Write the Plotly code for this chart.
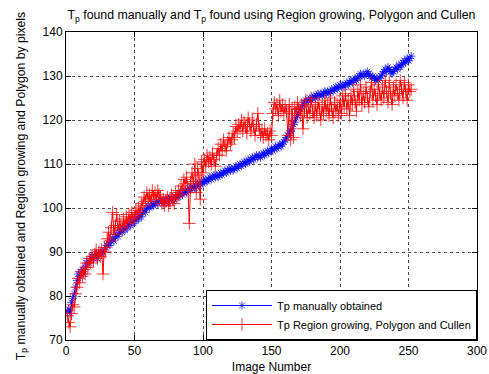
import plotly.graph_objects as go

image_number = list(range(1, 253))

tp_manual = [
    76.5, 77.0, 76.0, 78.5, 79.5, 80.5, 82.0, 83.5, 85.0, 84.5,
    85.5, 86.0, 85.0, 86.5, 87.5, 88.0, 87.5, 88.5, 89.0, 88.5,
    89.0, 89.5, 88.5, 89.5, 90.0, 89.5, 90.0, 90.5, 91.0, 91.5,
    92.0, 91.5, 92.5, 93.0, 92.5, 93.5, 94.0, 93.5, 94.5, 95.0,
    94.5, 95.5, 95.0, 96.0, 95.5, 96.5, 96.0, 97.0, 96.5, 97.5,
    97.0, 98.0, 97.5, 98.5, 98.0, 99.0, 99.5, 99.0, 100.0, 100.5,
    100.0, 100.5, 101.0, 100.5, 101.0, 101.5, 101.0, 101.5, 102.0, 101.5,
    101.0, 101.5, 102.0, 101.5, 102.0, 102.5, 102.0, 101.5, 102.0, 102.5,
    103.0, 102.5, 103.0, 103.5, 103.0, 103.5, 104.0, 103.5, 104.0, 104.5,
    104.0, 104.5, 105.0, 104.5, 105.0, 105.5, 105.0, 105.5, 106.0, 105.5,
    106.0, 106.5, 106.0, 106.5, 107.0, 106.5, 107.0, 107.5, 107.0, 107.5,
    107.0, 107.5, 108.0, 107.5, 108.0, 108.5, 108.0, 108.5, 109.0, 108.5,
    109.0, 108.5, 109.0, 109.5, 109.0, 109.5, 110.0, 109.5, 110.0, 110.5,
    110.0, 110.5, 111.0, 110.5, 111.0, 111.5, 111.0, 111.5, 112.0, 111.5,
    112.0, 111.5, 112.0, 112.5, 112.0, 112.5, 113.0, 112.5, 113.0, 113.5,
    113.0, 113.5, 114.0, 113.5, 114.0, 114.5, 114.0, 114.5, 115.0, 115.5,
    116.0, 116.5, 117.0, 117.5, 118.0, 119.0, 119.5, 120.5, 121.0, 122.0,
    122.5, 123.0, 123.5, 124.0, 124.5, 124.0, 124.5, 125.0, 124.5, 125.0,
    125.5, 125.0, 125.5, 126.0, 125.5, 126.0, 125.5, 126.0, 126.5, 126.0,
    126.5, 126.0, 126.5, 127.0, 126.5, 127.0, 127.5, 127.0, 127.5, 128.0,
    127.5, 128.0, 127.5, 128.0, 128.5, 128.0, 128.5, 129.0, 128.5, 129.0,
    129.5, 129.0, 129.5, 130.0, 130.5, 130.0, 130.5, 130.0, 130.5, 131.0,
    130.5, 130.0, 129.5, 130.0, 129.5, 129.0, 129.5, 129.0, 129.5, 130.0,
    130.5, 131.0, 131.5, 131.0, 132.0, 131.5, 131.0, 130.5, 131.0, 131.5,
    132.0, 131.5, 132.5, 132.0, 132.5, 133.0, 133.5, 133.0, 134.0, 133.5,
    134.0, 134.5,
]

tp_region = [
    75.5, 74.0, 73.0, 76.0, 78.0, 77.5, 80.5, 82.0, 84.0, 83.0,
    85.5, 84.5, 86.0, 85.0, 87.5, 86.5, 88.5, 87.5, 89.0, 88.0,
    89.5, 90.5, 88.5, 90.0, 89.0, 90.5, 85.0, 91.0, 90.0, 93.0,
    94.5, 92.5, 95.5, 99.0, 94.0, 96.0, 98.5, 95.0, 97.0, 96.0,
    95.5, 97.5, 96.0, 98.0, 96.5, 98.5, 97.0, 99.0, 97.5, 98.0,
    99.5, 98.5, 100.0, 99.0, 101.0, 100.5, 102.5, 101.5, 103.5, 102.0,
    103.0, 101.5, 104.0, 102.5, 103.5, 102.0, 104.0, 103.0, 102.5, 101.0,
    102.0, 100.5, 101.5, 102.5, 100.5, 101.5, 103.0, 102.0, 101.0, 103.5,
    102.5, 104.0, 103.0, 105.0, 104.0, 106.5, 105.5, 107.0, 104.5, 96.5,
    106.0, 108.0, 105.5, 110.0, 103.5, 109.0, 107.5, 102.0, 110.5, 108.0,
    111.0, 109.5, 112.0, 110.5, 111.5, 110.0, 112.5, 111.0, 109.5, 112.0,
    113.5, 112.0, 114.5, 113.0, 115.5, 114.0, 113.0, 115.0, 116.0, 114.5,
    115.5, 117.0, 116.0, 118.5, 117.5, 119.0, 118.0, 120.0, 117.5, 119.5,
    118.5, 117.0, 120.5, 119.0, 117.5, 120.0, 118.5, 116.5, 119.0, 121.5,
    118.0, 116.5, 117.5, 116.0, 118.0, 116.5, 117.0, 115.5, 117.5, 116.5,
    121.5, 124.0, 122.5, 123.5, 121.0, 124.5, 122.0, 123.5, 121.5, 123.0,
    122.0, 116.5, 123.5, 115.5, 122.5, 116.0, 123.0, 121.5, 124.0, 122.5,
    121.0, 123.5, 118.0, 122.0, 124.5, 120.5, 123.0, 121.5, 125.0, 122.0,
    120.5, 123.5, 121.0, 124.0, 122.5, 120.0, 123.0, 121.5, 124.5, 122.0,
    123.5, 121.0, 125.0, 122.5, 120.5, 124.0, 122.0, 123.5, 121.0, 124.5,
    121.5, 125.5, 123.0, 126.0, 122.5, 124.5, 121.0, 125.5, 123.5, 127.0,
    124.0, 122.0, 126.5, 124.5, 128.0, 123.5, 126.0, 124.0, 127.5, 125.0,
    123.0, 126.5, 128.5, 124.5, 127.0, 125.5, 123.5, 128.0, 126.0, 124.5,
    127.5, 125.0, 129.0, 126.5, 124.0, 128.5, 126.0, 123.5, 127.5, 125.5,
    128.0, 126.0, 124.5, 129.0, 127.0, 125.0, 128.5, 126.5, 124.5, 128.0,
    126.5, 127.0,
]

x_ticks = [0, 50, 100, 150, 200, 250, 300]
y_ticks = [70, 80, 90, 100, 110, 120, 130, 140]

FONT = "Liberation Sans, Arial, sans-serif"

fig = go.Figure()
fig.add_trace(go.Scatter(
    x=image_number, y=tp_manual, mode="lines+markers",
    name="Tp manually obtained",
    line=dict(color="rgb(0,0,255)", width=1),
    marker=dict(symbol="asterisk-open", size=7,
                line=dict(color="rgb(0,0,255)", width=0.7)),
))
fig.add_trace(go.Scatter(
    x=image_number, y=tp_region, mode="lines+markers",
    name="Tp Region growing, Polygon and Cullen",
    line=dict(color="rgb(255,0,0)", width=1),
    marker=dict(symbol="cross-thin-open", size=9,
                line=dict(color="rgb(255,0,0)", width=0.8)),
))

axis_common = dict(
    showline=True, linecolor="black", linewidth=1, mirror="ticks",
    ticks="inside", ticklen=5, tickcolor="black",
    showgrid=True, gridcolor="rgb(80,80,80)", griddash="dot", gridwidth=1,
    zeroline=False, tickfont=dict(family=FONT, size=12, color="black"),
    automargin=False,
)

fig.update_xaxes(range=[0, 300], tickvals=x_ticks, **axis_common,
                 title=dict(text="Image Number", font=dict(family=FONT, size=12, color="black"),
                            standoff=8))
fig.update_yaxes(range=[70, 140], tickvals=y_ticks, **axis_common,
                 title=dict(text="T<sub>p</sub> manually obtained and Region growing and Polygon by pixels",
                            font=dict(family=FONT, size=12.2, color="black"), standoff=14))

fig.update_layout(
    width=489, height=374, autosize=False,
    margin=dict(l=66, r=12, t=32, b=34),
    paper_bgcolor="white", plot_bgcolor="white",
    font=dict(family=FONT, size=12, color="black"),
    title=dict(text="T<sub>p</sub> found manually and T<sub>p</sub> found using Region growing, Polygon and Cullen",
               x=0.5, xref="paper", y=1 - 15 / 374, yref="container", yanchor="middle",
               font=dict(family=FONT, size=12.3, color="black")),
    legend=dict(x=1, xanchor="right", y=0, yanchor="bottom",
                bgcolor="white", bordercolor="black", borderwidth=1,
                font=dict(family=FONT, size=11, color="black"),
                itemwidth=60, tracegroupgap=0),
    showlegend=True,
)

fig.write_html("out.html", config={"responsive": False})
